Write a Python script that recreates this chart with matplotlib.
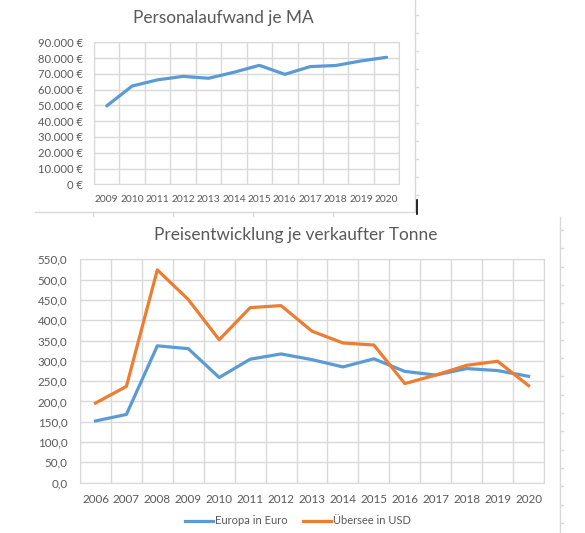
import matplotlib
matplotlib.use("Agg")
import matplotlib.pyplot as plt
import numpy as np

plt.rcParams['font.family'] = ['Lato', 'DejaVu Sans']

# top chart data
years_top = ['2009', '2010', '2011', '2012', '2013', '2014',
             '2015', '2016', '2017', '2018', '2019', '2020']
personal = [49700, 62300, 66200, 68400, 67200, 71000,
            75400, 69700, 74600, 75300, 78200, 80500]

# bottom chart data
years_bot = ['2006', '2007', '2008', '2009', '2010', '2011', '2012', '2013',
             '2014', '2015', '2016', '2017', '2018', '2019', '2020']
europa = [152, 168, 337, 330, 259, 304, 317, 303, 285, 305, 274, 265, 281, 276, 262]
uebersee = [196, 237, 524, 451, 352, 431, 436, 373, 344, 339, 244, 265, 289, 299, 239]

BLUE = '#5B9BD5'
ORANGE = '#ED7D31'
GRID = '#D9D9D9'
TXT = '#595959'
W, H = 585, 533


def box(l, t, r, b):
    return [l / W, (H - b) / H, (r - l) / W, (b - t) / H]


def style(ax, n):
    ax.set_xlim(-0.5, n - 0.5)
    ax.set_xticks(np.arange(n))
    ax.set_xticks(np.arange(n + 1) - 0.5, minor=True)
    ax.grid(True, which='minor', axis='x', color=GRID, lw=1)
    ax.grid(True, which='major', axis='y', color=GRID, lw=1)
    ax.tick_params(which='both', length=0, colors=TXT, labelsize=8.4)
    for s in ax.spines.values():
        s.set_color(GRID)
    ax.set_axisbelow(True)


fig = plt.figure(figsize=(W / 100, H / 100), dpi=100)

# spreadsheet decoration (cell borders)
deco = fig.add_axes([0, 0, 1, 1])
deco.set_xlim(0, W)
deco.set_ylim(H, 0)
deco.axis('off')
deco.plot([35, 415], [212, 212], color=GRID, lw=1)
deco.plot([415, 415], [0, 212], color=GRID, lw=1)
for x in [93, 173, 253, 333]:
    deco.plot([x, x], [212, 216], color=GRID, lw=1)
for y in np.arange(15, 200, 18):
    deco.plot([415, 418], [y, y], color=GRID, lw=1)
deco.plot([417, 417], [200, 214], color='black', lw=1.2)
deco.plot([560, 560], [217, H], color=GRID, lw=1)
for y in np.arange(230, H, 18.3):
    deco.plot([560, 563], [y, y], color=GRID, lw=1)

# top chart
ax1 = fig.add_axes(box(94, 42.3, 399.3, 184.3))
style(ax1, len(years_top))
ax1.plot(np.arange(len(years_top)), personal, color=BLUE, lw=2.3,
         solid_capstyle='round')
ax1.set_ylim(0, 90000)
ax1.set_yticks(np.arange(0, 90001, 10000))
ax1.set_yticklabels([f'{v:,.0f} €'.replace(',', '.') for v in range(0, 90001, 10000)])
ax1.set_xticklabels(years_top)
ax1.tick_params(axis='x', pad=8, labelsize=7.4)
ax1.tick_params(axis='y', pad=8, labelsize=8.1)
fig.text(223 / W, 1 - 18 / H, 'Personalaufwand je MA', ha='center', va='center',
         fontsize=12.4, color=TXT)

# bottom chart
ax2 = fig.add_axes(box(80, 259.3, 544, 482.7))
style(ax2, len(years_bot))
x2 = np.arange(len(years_bot))
ax2.plot(x2, europa, color=BLUE, lw=2.3, label='Europa in Euro')
ax2.plot(x2, uebersee, color=ORANGE, lw=2.3, label='Übersee in USD')
ax2.set_ylim(0, 550)
ax2.set_yticks(np.arange(0, 551, 50))
ax2.set_yticklabels([f'{v:.1f}'.replace('.', ',') for v in range(0, 551, 50)])
ax2.set_xticklabels(years_bot)
ax2.tick_params(axis='x', pad=8)
ax2.tick_params(axis='y', pad=9)
fig.text(296 / W, 1 - 235 / H, 'Preisentwicklung je verkaufter Tonne',
         ha='center', va='center', fontsize=12.4, color=TXT)
leg = ax2.legend(loc='center', bbox_to_anchor=(298 / W, 1 - 521 / H),
                 bbox_transform=fig.transFigure, ncol=2, frameon=False,
                 fontsize=8.0, handlelength=2.5, handletextpad=0.15,
                 columnspacing=1.45, labelcolor=TXT)

fig.savefig('out.png', dpi=100, facecolor='white')
